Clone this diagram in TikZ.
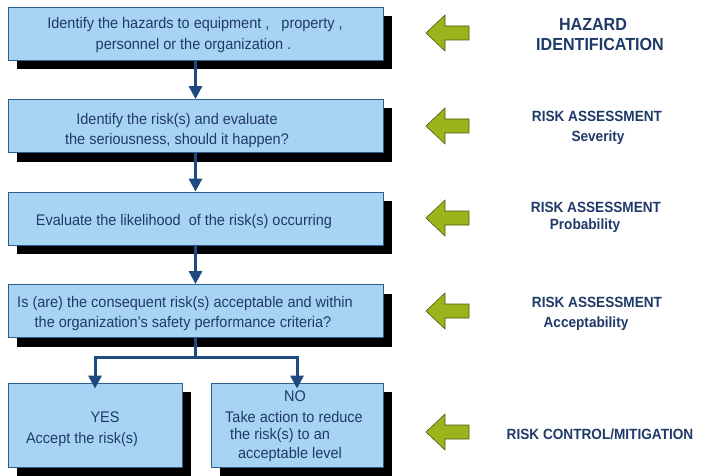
\documentclass[tikz,border=0pt]{standalone}
\usepackage{fontspec}
\setmainfont[FakeStretch=0.94]{Liberation Sans}
\newfontfamily\labfont[FakeStretch=0.92]{Liberation Sans}
\usetikzlibrary{arrows.meta,shadows}
\definecolor{boxfill}{HTML}{A8D4F4}
\definecolor{boxline}{HTML}{2E5E8E}
\definecolor{navy}{HTML}{1F3A68}
\definecolor{flowblue}{HTML}{1F4A80}
\definecolor{leaf}{HTML}{9AB51C}
\definecolor{leafline}{HTML}{4A5810}
\tikzset{
  stepbox/.style={draw=boxline, line width=0.8pt, fill=boxfill, minimum width=375pt, minimum height=53pt, inner sep=0pt,
    drop shadow={shadow xshift=9pt, shadow yshift=-9pt, fill=black, opacity=1}},
  txt/.style={anchor=base, inner sep=0pt, text=navy, font=\fontsize{15.4}{20}\selectfont},
  lab/.style={anchor=base, inner sep=0pt, text=navy, font=\labfont\bfseries\fontsize{14.8}{18}\selectfont},
  biglab/.style={anchor=base, inner sep=0pt, text=navy, font=\labfont\bfseries\fontsize{17.5}{20}\selectfont},
  flow/.style={draw=flowblue, line width=3pt, -{Triangle[width=13pt,length=13pt]}},
  greenarrow/.style={draw=leafline, line width=0.6pt, fill=leaf, line join=miter}
}
\begin{document}
\begin{tikzpicture}[x=1pt,y=-1pt]
\useasboundingbox (0,0) rectangle (704,476);
% boxes
\node[stepbox] (b1) at (195.5,34) {};
\node[stepbox] (b2) at (195.5,126) {};
\node[stepbox] (b3) at (195.5,218.5) {};
\node[stepbox] (b4) at (195.5,311) {};
\node[stepbox, minimum width=174pt, minimum height=84pt] (yes) at (95,425) {};
\node[stepbox, minimum width=172pt, minimum height=84pt] (no) at (297,425) {};
% box texts
\node[txt] (t1a) at (195,29) {Identify the hazards to equipment ,\ \ \ property ,};
\node[txt] (t1b) at (193.5,50) {personnel or the organization .};
\node[txt] (t2a) at (177,125) {Identify the risk(s) and evaluate};
\node[txt] (t2b) at (177,145) {the seriousness, should it happen?};
\node[txt] (t3) at (184,225) {Evaluate the likelihood\ \ of the risk(s) occurring};
\node[txt] (t4a) at (185,307) {Is (are) the consequent risk(s) acceptable and within};
\node[txt] (t4b) at (183,327) {the organization’s safety performance criteria?};
\node[txt] (ty1) at (105,422) {YES};
\node[txt] (ty2) at (82,443) {Accept the risk(s)};
\node[txt] (tn1) at (295,401) {NO};
\node[txt] (tn2) at (294,422) {Take action to reduce};
\node[txt] (tn3) at (280,439) {the risk(s) to an};
\node[txt] (tn4) at (290,458) {acceptable level};
% connectors
\draw[flow] (b1) -- (b2);
\draw[flow] (b2) -- (b3);
\draw[flow] (b3) -- (b4);
\coordinate (split) at (195.5,357);
\draw[draw=flowblue, line width=3pt] (b4.south) -- (split);
\draw[flow, shorten >=-6pt] (split) -| (yes.north);
\draw[flow, shorten >=-6pt] (split) -| (no.north);
% green arrows
\foreach \cy in {33,126,218,311,432}{
  \draw[greenarrow] (426,\cy) -- (445,\cy-18) -- (445,\cy-7) -- (469,\cy-7) -- (469,\cy+7) -- (445,\cy+7) -- (445,\cy+18) -- cycle;
}
% right labels
\node[biglab] (l1a) at (593,31) {HAZARD};
\node[biglab] (l1b) at (600,51) {IDENTIFICATION};
\node[lab] (l2a) at (597,122) {RISK ASSESSMENT};
\node[lab] (l2b) at (598,142) {Severity};
\node[lab] (l3a) at (596,212) {RISK ASSESSMENT};
\node[lab] (l3b) at (585,229) {Probability};
\node[lab] (l4a) at (597,307) {RISK ASSESSMENT};
\node[lab] (l4b) at (586,327) {Acceptability};
\node[lab] (l5) at (600,439) {RISK CONTROL/MITIGATION};
\end{tikzpicture}
\end{document}
